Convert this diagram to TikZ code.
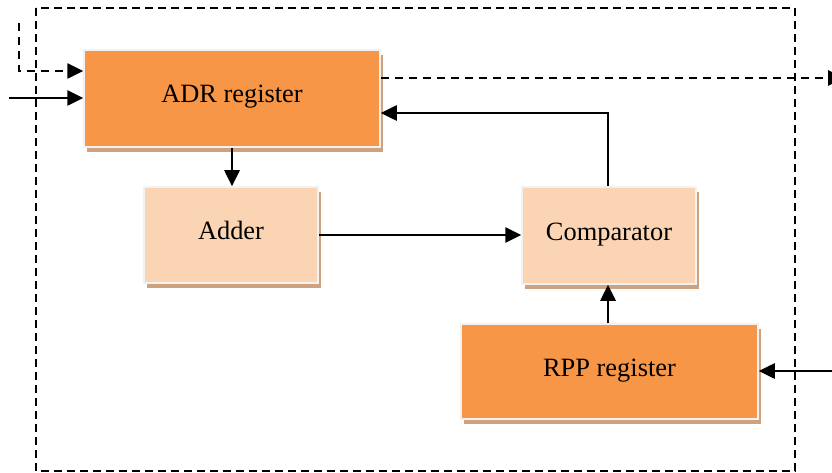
\documentclass[tikz,border=0pt]{standalone}
\usepackage{fontspec}
\setmainfont{Liberation Serif}
\usetikzlibrary{arrows.meta,shadows}
\definecolor{regorange}{HTML}{F79646}
\definecolor{unitpeach}{HTML}{FBD4B4}
\definecolor{shadowtan}{HTML}{CFA27F}
\definecolor{edgegrey}{HTML}{F2F2F2}
\tikzset{
  block/.style={draw=edgegrey, line width=1.5pt, inner sep=0pt,
    font=\fontsize{26.4}{30}\selectfont, text height=0.9em, text depth=0em,
    drop shadow={shadow xshift=3pt, shadow yshift=-5pt, fill=shadowtan, opacity=1}},
  regbox/.style={block, fill=regorange},
  unitbox/.style={block, fill=unitpeach},
  tip/.style={-{Triangle[length=16pt,width=15pt]}},
  flow/.style={line width=2.6pt, tip},
  ctrl/.style={line width=2.6pt, dash pattern=on 8pt off 6pt, tip},
  frame/.style={line width=2pt, dash pattern=on 8pt off 5pt}
}
\begin{document}
\begin{tikzpicture}[x=1pt, y=-1pt]
  \useasboundingbox (0,0) rectangle (832,473);

  % functional blocks
  \node[regbox, minimum width=296pt, minimum height=97pt] (adr) at (232,98.5) {ADR register};
  \node[unitbox, minimum width=174pt, minimum height=96pt] (adder) at (231,235) {Adder};
  \node[unitbox, minimum width=174pt, minimum height=97pt] (comp) at (609,235.5) {Comparator};
  \node[regbox, minimum width=297pt, minimum height=95pt] (rpp) at (609.5,371.5) {RPP register};

  % unit boundary
  \draw[frame] (36,8) rectangle (795,471);

  % free ends of the external signals
  \coordinate (ctlstart) at (19,23);
  \coordinate (ctlbend) at (19,71);
  \coordinate (datain) at (9,98);
  \coordinate (ctlout) at (844,78);
  \coordinate (rppin) at (840,371);
  \coordinate (fb) at (608,113);

  % external signals
  \draw[ctrl] (ctlstart) -- (ctlbend) -- (adr.west |- ctlbend);
  \draw[flow] (datain) -- (adr.west |- datain);
  \draw[ctrl] (adr.east |- ctlout) -- (ctlout);
  \draw[flow] (rppin) -- (rpp.east |- rppin);

  % internal data paths
  \draw[flow] (adr.south) -- (adr.south |- adder.north);
  \draw[flow] (adder.east) -- (adder.east -| comp.west);
  \draw[flow] (rpp.north -| fb) -- (comp.south -| fb);
  \draw[flow] (comp.north -| fb) -- (fb) -- (adr.east |- fb);
\end{tikzpicture}
\end{document}
